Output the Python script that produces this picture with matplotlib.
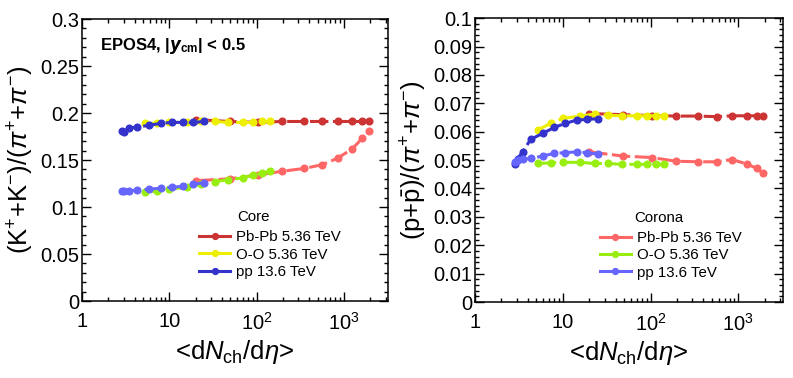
import numpy as np
import matplotlib
matplotlib.use('Agg')
import matplotlib.pyplot as plt
from matplotlib.lines import Line2D
from matplotlib.ticker import FixedLocator, MultipleLocator, FuncFormatter, LogLocator, NullFormatter

plt.rcParams['font.family'] = ['Liberation Sans', 'DejaVu Sans']
plt.rcParams['mathtext.fontset'] = 'custom'
plt.rcParams['mathtext.rm'] = 'Liberation Sans'
plt.rcParams['mathtext.it'] = 'Liberation Sans:italic'
plt.rcParams['mathtext.bf'] = 'Liberation Sans:bold'

# multiplicity classes <dNch/deta>
x_pbpb = [20, 49, 103, 195, 350, 565, 850, 1250, 1620, 1930]
x_oo = [5.2, 7.3, 10, 15.8, 23, 33, 47, 70, 91, 115, 142]
x_pp = [2.85, 3.05, 3.5, 4.3, 5.9, 8.0, 10.6, 14.4, 18.8, 25]

# (K+ + K-)/(pi+ + pi-)
k_core_pbpb = [0.193, 0.191, 0.190, 0.191, 0.191, 0.191, 0.191, 0.191, 0.191, 0.191]
k_core_oo = [0.189, 0.189, 0.190, 0.190, 0.191, 0.191, 0.190, 0.190, 0.190, 0.191, 0.191]
k_core_pp = [0.181, 0.180, 0.184, 0.185, 0.187, 0.189, 0.190, 0.190, 0.190, 0.191]
k_cor_pbpb = [0.128, 0.130, 0.134, 0.138, 0.141, 0.145, 0.152, 0.162, 0.173, 0.181]
k_cor_oo = [0.116, 0.117, 0.119, 0.121, 0.124, 0.127, 0.129, 0.131, 0.134, 0.136, 0.138]
k_cor_pp = [0.117, 0.117, 0.117, 0.118, 0.119, 0.120, 0.121, 0.122, 0.124, 0.126]

# (p + pbar)/(pi+ + pi-)
p_core_pbpb = [0.0664, 0.0660, 0.0657, 0.0655, 0.0655, 0.0653, 0.0656, 0.0656, 0.0656, 0.0656]
p_core_oo = [0.0606, 0.0630, 0.0647, 0.0655, 0.0662, 0.0658, 0.0656, 0.0656, 0.0656, 0.0656, 0.0655]
p_core_pp = [0.0485, 0.0505, 0.0529, 0.0573, 0.0594, 0.0615, 0.0629, 0.0641, 0.0643, 0.0646]
p_cor_pbpb = [0.0529, 0.0514, 0.0509, 0.0496, 0.0494, 0.0494, 0.0502, 0.0486, 0.0471, 0.0453]
p_cor_oo = [0.0488, 0.0490, 0.0492, 0.0492, 0.0488, 0.0488, 0.0485, 0.0485, 0.0485, 0.0485, 0.0485]
p_cor_pp = [0.0494, 0.0500, 0.0503, 0.0506, 0.0514, 0.0524, 0.0526, 0.0529, 0.0526, 0.0521]

labels = ['Pb-Pb 5.36 TeV', 'O-O 5.36 TeV', 'pp 13.6 TeV']
core_colors = ['#cc3333', '#eeee00', '#3333cc']
corona_colors = ['#ff6666', '#99ee11', '#6666ff']

fig = plt.figure(figsize=(7.93, 3.78), dpi=100)
ax1 = fig.add_axes([0.1034, 0.2037, 0.3859, 0.746])
ax2 = fig.add_axes([0.599, 0.201, 0.388, 0.751])

ls = (0, (6, 1.5))


def draw(ax, xs, ys, colors):
    for x, y, c in zip(xs, ys, colors):
        ax.plot(x, y, color=c, ls=ls, lw=2.2, marker='o', ms=4.8)


def style(ax, ymax, ymajor, yminor):
    ax.set_xscale('log')
    ax.set_xlim(1, 3200)
    ax.set_ylim(0, ymax)
    ax.xaxis.set_major_locator(FixedLocator([1, 10, 100, 1000]))
    ax.xaxis.set_major_formatter(FuncFormatter(
        lambda v, p: {1: '1', 10: '10', 100: r'$10^{2}$', 1000: r'$10^{3}$'}.get(int(round(v)), '')))
    ax.xaxis.set_minor_locator(LogLocator(base=10, subs=np.arange(2, 10), numticks=20))
    ax.xaxis.set_minor_formatter(NullFormatter())
    ax.yaxis.set_major_locator(MultipleLocator(ymajor))
    ax.yaxis.set_minor_locator(MultipleLocator(yminor))
    ax.yaxis.set_major_formatter(FuncFormatter(lambda v, p: '%g' % round(v, 4)))
    ax.tick_params(which='both', direction='in', top=True, right=True, labelsize=14.5, width=1.0)
    ax.tick_params(which='major', length=6.5)
    ax.tick_params(which='minor', length=3.2)
    ax.tick_params(axis='x', pad=8)
    ax.tick_params(axis='y', pad=2)
    for s in ax.spines.values():
        s.set_linewidth(1.1)
    ax.set_xlabel(r'<d$N_{\rm ch}$/d$\eta$>', fontsize=18.5, labelpad=3)


def legend(ax, colors, title, hx, tx):
    handles = [Line2D([], [], color=c, lw=2.2, marker='o', ms=4.2) for c in colors]
    ax.legend(handles, labels, loc='upper left', bbox_to_anchor=(hx, 0.251), frameon=False,
              fontsize=10.8, handlelength=2.1, handletextpad=0.4, labelspacing=0.23,
              borderpad=0, borderaxespad=0)
    ax.text(tx, 0.297, title, transform=ax.transAxes, fontsize=10.8, va='center')


draw(ax1, [x_pbpb, x_oo, x_pp], [k_core_pbpb, k_core_oo, k_core_pp], core_colors)
draw(ax1, [x_pbpb, x_oo, x_pp], [k_cor_pbpb, k_cor_oo, k_cor_pp], corona_colors)
style(ax1, 0.3, 0.05, 0.01)
ax1.set_ylabel(r'(K$^{+}$+K$^{-}$)/($\pi^{+}$+$\pi^{-}$)', fontsize=18.5, labelpad=3)
ax1.text(0.058, 0.905, r'EPOS4, |$\boldsymbol{y}_{\rm \bf cm}$| < 0.5', transform=ax1.transAxes,
         fontsize=12, fontweight='bold', va='center')
legend(ax1, core_colors, 'Core', 0.382, 0.508)

draw(ax2, [x_pbpb, x_oo, x_pp], [p_core_pbpb, p_core_oo, p_core_pp], core_colors)
draw(ax2, [x_pbpb, x_oo, x_pp], [p_cor_pbpb, p_cor_oo, p_cor_pp], corona_colors)
style(ax2, 0.1, 0.01, 0.002)
ax2.set_ylabel(r'(p+$\bar{\rm p}$)/($\pi^{+}$+$\pi^{-}$)', fontsize=18.5, labelpad=3)
legend(ax2, corona_colors, 'Corona', 0.405, 0.518)

fig.savefig('out.png', dpi=100)
